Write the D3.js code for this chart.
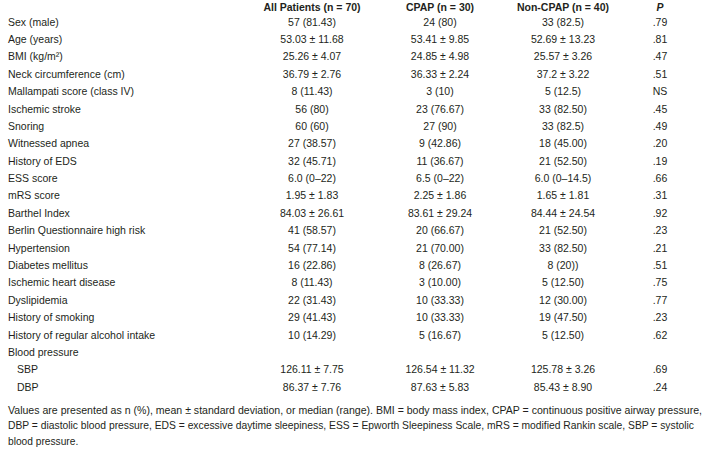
<!DOCTYPE html>
<html>
<head>
<meta charset="utf-8">
<script src="https://cdn.jsdelivr.net/npm/d3@7"></script>
<style>
  body { margin: 0; background: #fff; }
  svg text { font-family: "Liberation Sans", Arial, sans-serif; fill: #231f20; }
</style>
</head>
<body>
<div id="table"></div>
<script>
// page dims
var width = 704;
var height = 451;

// table content
var headers = ["All Patients (n = 70)", "CPAP (n = 30)", "Non-CPAP (n = 40)", "P"];
var labels = ["Sex (male)", "Age (years)", "BMI (kg/m²)", "Neck circumference (cm)",
    "Mallampati score (class IV)", "Ischemic stroke", "Snoring", "Witnessed apnea",
    "History of EDS", "ESS score", "mRS score", "Barthel Index",
    "Berlin Questionnaire high risk", "Hypertension", "Diabetes mellitus",
    "Ischemic heart disease", "Dyslipidemia", "History of smoking",
    "History of regular alcohol intake", "Blood pressure", "SBP", "DBP"];
var subRows = ["SBP", "DBP"];
var allPatients = ["57 (81.43)", "53.03 ± 11.68", "25.26 ± 4.07", "36.79 ± 2.76",
    "8 (11.43)", "56 (80)", "60 (60)", "27 (38.57)", "32 (45.71)", "6.0 (0–22)",
    "1.95 ± 1.83", "84.03 ± 26.61", "41 (58.57)", "54 (77.14)", "16 (22.86)",
    "8 (11.43)", "22 (31.43)", "29 (41.43)", "10 (14.29)", "", "126.11 ± 7.75", "86.37 ± 7.76"];
var cpap = ["24 (80)", "53.41 ± 9.85", "24.85 ± 4.98", "36.33 ± 2.24", "3 (10)",
    "23 (76.67)", "27 (90)", "9 (42.86)", "11 (36.67)", "6.5 (0–22)", "2.25 ± 1.86",
    "83.61 ± 29.24", "20 (66.67)", "21 (70.00)", "8 (26.67)", "3 (10.00)",
    "10 (33.33)", "10 (33.33)", "5 (16.67)", "", "126.54 ± 11.32", "87.63 ± 5.83"];
var nonCpap = ["33 (82.5)", "52.69 ± 13.23", "25.57 ± 3.26", "37.2 ± 3.22", "5 (12.5)",
    "33 (82.50)", "33 (82.5)", "18 (45.00)", "21 (52.50)", "6.0 (0–14.5)", "1.65 ± 1.81",
    "84.44 ± 24.54", "21 (52.50)", "33 (82.50)", "8 (20))", "5 (12.50)",
    "12 (30.00)", "19 (47.50)", "5 (12.50)", "", "125.78 ± 3.26", "85.43 ± 8.90"];
var pValues = [".79", ".81", ".47", ".51", "NS", ".45", ".49", ".20", ".19", ".66", ".31",
    ".92", ".23", ".21", ".51", ".75", ".77", ".23", ".62", "", ".69", ".24"];
var footnote = [
    "Values are presented as n (%), mean ± standard deviation, or median (range). BMI = body mass index, CPAP = continuous positive airway pressure,",
    "DBP = diastolic blood pressure, EDS = excessive daytime sleepiness, ESS = Epworth Sleepiness Scale, mRS = modified Rankin scale, SBP = systolic",
    "blood pressure."
];

var columns = [allPatients, cpap, nonCpap, pValues];
var fontSize = 10.5;

var svg = d3.select("#table").append("svg")
    .attr("width", width)
    .attr("height", height);

// row positions
var yScale = d3.scalePoint()
    .domain(d3.range(labels.length))
    .range([22, 387]);

// column centres
var colX = d3.scaleOrdinal()
    .domain(d3.range(columns.length))
    .range([312, 440, 563, 660]);

// header row
svg.append("g")
    .selectAll("text")
    .data(headers).enter()
    .append("text")
    .attr("x", function(d, i) { return colX(i); })
    .attr("y", 7)
    .attr("dy", "0.35em")
    .attr("text-anchor", "middle")
    .attr("font-size", fontSize)
    .attr("font-weight", "bold")
    .attr("font-style", function(d) { return d == "P" ? "italic" : "normal"; })
    .text(function(d) { return d; });

// row labels
svg.append("g")
    .selectAll("text")
    .data(labels).enter()
    .append("text")
    .attr("x", function(d) { return subRows.includes(d) ? 17 : 8; })
    .attr("y", function(d, i) { return yScale(i); })
    .attr("dy", "0.35em")
    .attr("font-size", fontSize)
    .text(function(d) { return d; });

// value cells
columns.forEach(function(col, c) {
    svg.append("g")
        .selectAll("text")
        .data(col).enter()
        .append("text")
        .attr("x", colX(c))
        .attr("y", function(d, i) { return yScale(i); })
        .attr("dy", "0.35em")
        .attr("text-anchor", "middle")
        .attr("font-size", fontSize)
        .text(function(d) { return d; });
});

// footnote, first two lines fitted to the page width
var footWidths = [694, 686];
svg.append("g")
    .selectAll("text")
    .data(footnote).enter()
    .append("text")
    .attr("x", 8)
    .attr("y", function(d, i) { return 410 + i * 15.5; })
    .attr("dy", "0.35em")
    .attr("font-size", 10.2)
    .each(function(d, i) {
        if (footWidths[i]) {
            d3.select(this)
                .attr("textLength", footWidths[i])
                .attr("lengthAdjust", "spacingAndGlyphs");
        }
    })
    .text(function(d) { return d; });
</script>
</body>
</html>
